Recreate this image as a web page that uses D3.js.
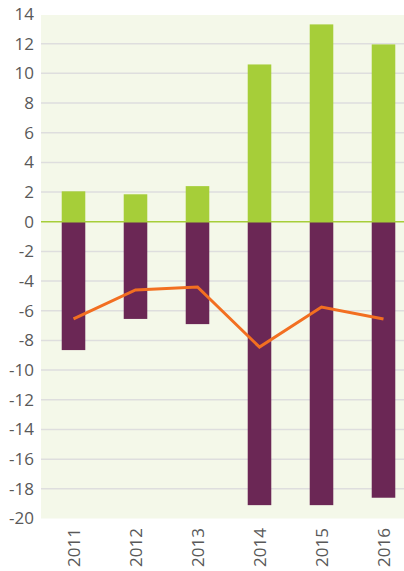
<!DOCTYPE html>
<html>
<head>
<meta charset="utf-8">
<style>
	body { margin: 0; background: #fff; }
	text {
		font-family: "Open Sans", sans-serif;
		font-size: 17px;
		fill: #595959;
	}
	.grid line { stroke: #dedede; stroke-width: 1.5px; }
</style>
</head>
<body>
<svg width="404" height="571"></svg>
<script src="https://d3js.org/d3.v7.min.js"></script>
<script>

	var years = ["2011", "2012", "2013", "2014", "2015", "2016"];
	var positive = [2.05, 1.85, 2.4, 10.6, 13.3, 11.95];
	var negative = [-8.65, -6.55, -6.9, -19.1, -19.1, -18.6];
	var lineValues = [-6.55, -4.6, -4.4, -8.45, -5.75, -6.55];
	var yTicks = d3.range(-20, 15, 2);

	var svg = d3.select("svg"),
		plotLeft = 41, plotRight = 404, plotTop = 14, plotBottom = 518.5;

	var x = d3.scaleBand()
		.domain(years)
		.range([42.5, 414.5])
		.paddingInner(0.62)
		.paddingOuter(0.31);

	var y = d3.scaleLinear()
		.domain([-20, 14])
		.range([plotBottom, plotTop]);

	// plot background
	svg.append("rect")
		.attr("x", plotLeft)
		.attr("y", y(14) + 1)
		.attr("width", plotRight - plotLeft)
		.attr("height", plotBottom - y(14) - 1)
		.attr("fill", "#f4f8e9");

	// gridlines
	svg.append("g")
		.attr("class", "grid")
		.selectAll("line")
		.data(yTicks.filter(function (d) { return d !== 0 && d !== 14 && d !== -20; }))
		.enter().append("line")
		.attr("x1", plotLeft)
		.attr("x2", plotRight)
		.attr("y1", function (d) { return y(d); })
		.attr("y2", function (d) { return y(d); });

	var cx = function (d, i) { return x(years[i]) + x.bandwidth() / 2; };

	svg.append("g")
		.selectAll("rect")
		.data(positive)
		.enter().append("rect")
		.attr("x", function (d, i) { return x(years[i]); })
		.attr("y", function (d) { return y(d); })
		.attr("width", x.bandwidth())
		.attr("height", function (d) { return y(0) - y(d); })
		.attr("fill", "#a6ce39");

	svg.append("g")
		.selectAll("rect")
		.data(negative)
		.enter().append("rect")
		.attr("x", function (d, i) { return x(years[i]); })
		.attr("y", y(0))
		.attr("width", x.bandwidth())
		.attr("height", function (d) { return y(d) - y(0); })
		.attr("fill", "#6b2755");

	// zero line
	svg.append("line")
		.attr("x1", plotLeft)
		.attr("x2", plotRight)
		.attr("y1", y(0))
		.attr("y2", y(0))
		.attr("stroke", "#a6ce39")
		.attr("stroke-width", 1.5);

	var line = d3.line()
		.x(function (d, i) { return cx(d, i); })
		.y(function (d) { return y(d); });

	svg.append("path")
		.datum(lineValues)
		.attr("d", line)
		.attr("fill", "none")
		.attr("stroke", "#f26f21")
		.attr("stroke-width", 3);

	// y axis labels
	svg.append("g")
		.selectAll("text")
		.data(yTicks)
		.enter().append("text")
		.attr("x", 34)
		.attr("y", function (d) { return y(d); })
		.attr("dy", "0.35em")
		.attr("text-anchor", "end")
		.text(function (d) { return d; });

	// x axis labels
	svg.append("g")
		.selectAll("text")
		.data(years)
		.enter().append("text")
		.attr("transform", function (d) {
			return "translate(" + (x(d) + x.bandwidth() / 2 + 1) + ",528) rotate(-90)";
		})
		.attr("dy", "0.35em")
		.attr("text-anchor", "end")
		.text(function (d) { return d; });

</script>
</body>
</html>
